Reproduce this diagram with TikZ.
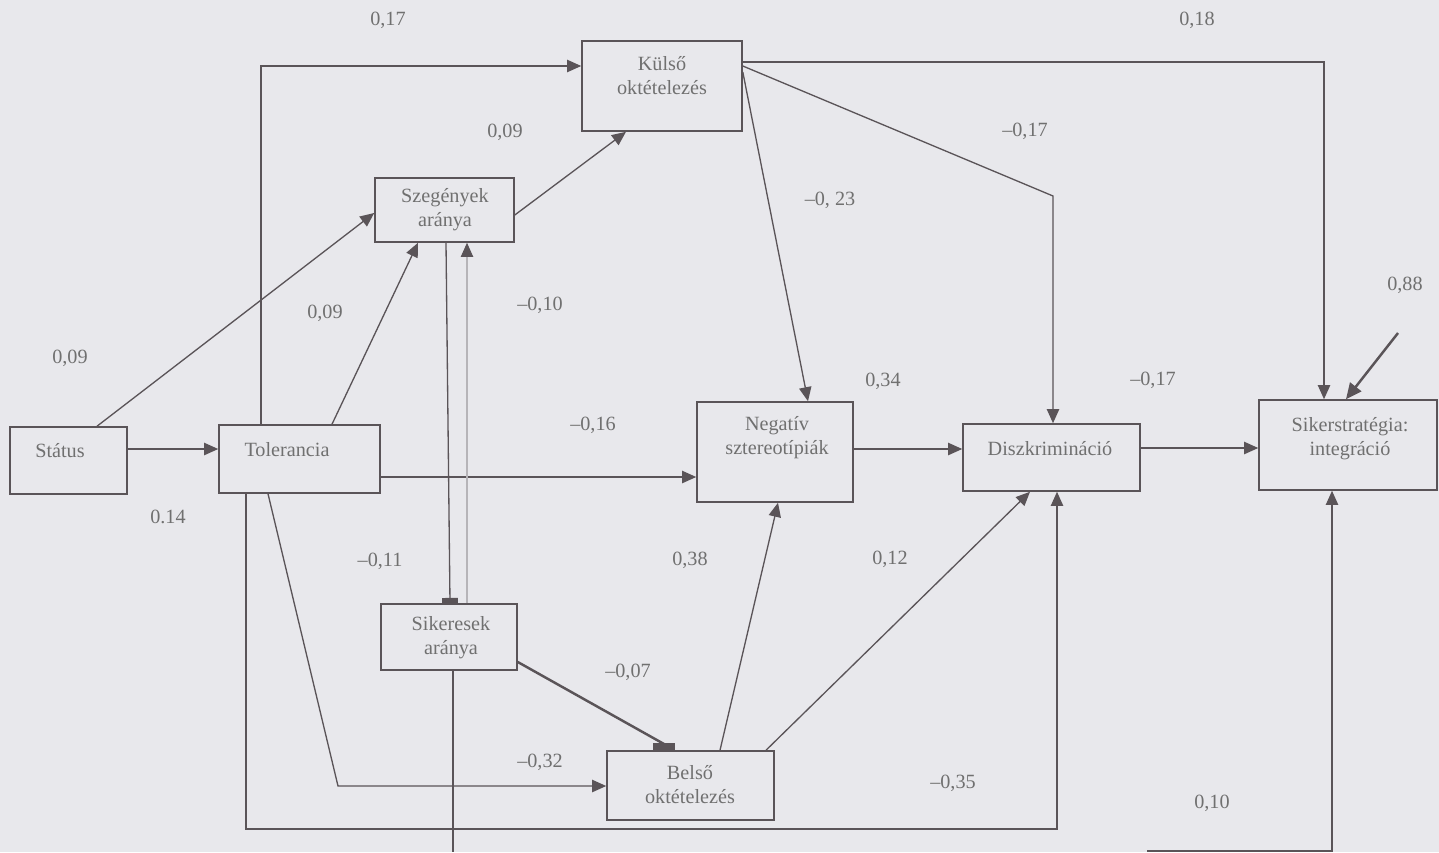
\documentclass[tikz,border=0pt]{standalone}
\usepackage{fontspec}
\setmainfont{Liberation Serif}
\usetikzlibrary{arrows.meta,fit}
\definecolor{bg}{HTML}{E8E8EC}
\definecolor{ln}{HTML}{5A5458}
\definecolor{tx}{HTML}{707070}
\tikzset{
  box/.style={draw=ln,line width=0.9pt,rectangle,inner sep=0pt},
  txt/.style={text=tx,font=\fontsize{11.5}{13.6}\selectfont,align=center,inner sep=0pt},
  lab/.style={text=tx,font=\fontsize{11.5}{13.6}\selectfont,inner sep=0pt},
  arr/.style={draw=ln,line width=0.75pt,-{Triangle[length=8pt,width=7pt]}},
  arrbold/.style={draw=ln,line width=1.4pt,-{Triangle[length=9pt,width=8pt]}},
  faint/.style={draw=ln!35!bg,line width=0.6pt,-{Triangle[length=8pt,width=7pt,color=ln,fill=ln]}},
  plain/.style={draw=ln,line width=0.75pt}
}
\begin{document}
\begin{tikzpicture}[x=0.02cm,y=-0.02cm]
\fill[bg] (0,0) rectangle (1439,852);
\useasboundingbox (0,0) rectangle (1439,852);

% boxes
\node[box,fit={(582,41) (742,131)}] (kulso) {};
\node[box,fit={(375,178) (514,242)}] (szeg) {};
\node[box,fit={(10,427) (127,494)}] (status) {};
\node[box,fit={(219,425) (380,493)}] (tol) {};
\node[box,fit={(697,402) (853,502)}] (neg) {};
\node[box,fit={(963,424) (1140,491)}] (disz) {};
\node[box,fit={(1259,400) (1437,490)}] (sikstr) {};
\node[box,fit={(381,604) (517,670)}] (sik) {};
\node[box,fit={(607,751) (774,820)}] (belso) {};

% box texts
\node[txt] (tkulso) at (662,76) {Külső\\oktételezés};
\node[txt] (tszeg) at (445,210) {Szegények\\aránya};
\node[txt] (tstatus) at (60,451) {Státus};
\node[txt] (ttol) at (287,450) {Tolerancia};
\node[txt] (tneg) at (777,438) {Negatív\\sztereotípiák};
\node[txt] (tdisz) at (1050,449) {Diszkrimináció};
\node[txt] (tsikstr) at (1350,439) {Sikerstratégia:\\integráció};
\node[txt] (tsik) at (451,638) {Sikeresek\\aránya};
\node[txt] (tbelso) at (690,785) {Belső\\oktételezés};

% connectors
\draw[arr] (status.east |- 0,449) -- (tol.west |- 0,449);
\draw[plain,-{Triangle[length=8pt,width=7pt]}] (status.north -| 97,0) -- (szeg.west |- 0,213);
\draw[arr] (tol.north -| 261,0) |- (kulso.west |- 0,66);
\draw[arr] (tol.north -| 332,0) -- (szeg.south -| 418,0);
\draw[arr] (tol.east |- 0,477) -- (neg.west |- 0,477);
\draw[arr] (tol.south -| 268,0) -- (338,786) -- (belso.west |- 0,786);
\draw[arr] (tol.south -| 246,0) |- (1057,829) -- (disz.south -| 1057,0);
\draw[arr] (szeg.east |- 0,215) -- (kulso.south -| 626,0);
\draw[plain,-{Rectangle[length=3pt,width=9pt]}] (szeg.south -| 446,0) -- (sik.north -| 450,0);
\draw[faint] (sik.north -| 467,0) -- (szeg.south -| 467,0);
\draw[arrbold,-{Rectangle[length=4pt,width=12pt]}] (sik.east |- 0,662) -- (664,744) -- (belso.north -| 664,0);
\coordinate (sikend) at (453,852);
\draw[plain] (sik.south -| 453,0) -- (sikend);
\draw[arr] (kulso.east |- 0,72) -- (neg.north -| 808,0);
\draw[arr] (kulso.east |- 0,66) -- (1053,196) -- (disz.north -| 1053,0);
\draw[arr] (kulso.east |- 0,62) -| (sikstr.north -| 1324,0);
\draw[arr] (neg.east |- 0,449) -- (disz.west |- 0,449);
\draw[arr] (disz.east |- 0,448) -- (sikstr.west |- 0,448);
\coordinate (e88) at (1398,333);
\draw[arrbold] (e88) -- (sikstr.north -| 1346,0);
\draw[arr] (belso.north -| 720,0) -- (neg.south -| 778,0);
\draw[arr] (belso.north -| 766,0) -- (disz.south -| 1030,0);
\coordinate (b1) at (1147,851);
\draw[arr] (b1) -| (sikstr.south -| 1332,0);

% labels
\node[lab] (l1) at (388,20) {0,17};
\node[lab] (l2) at (1197,20) {0,18};
\node[lab] (l3) at (505,132) {0,09};
\node[lab] (l4) at (1025,131) {–0,17};
\node[lab] (l5) at (830,200) {–0, 23};
\node[lab] (l6) at (1405,285) {0,88};
\node[lab] (l7) at (325,313) {0,09};
\node[lab] (l8) at (540,305) {–0,10};
\node[lab] (l9) at (70,358) {0,09};
\node[lab] (l10) at (883,381) {0,34};
\node[lab] (l11) at (1153,380) {–0,17};
\node[lab] (l12) at (593,425) {–0,16};
\node[lab] (l13) at (168,517) {0.14};
\node[lab] (l14) at (380,561) {–0,11};
\node[lab] (l15) at (690,560) {0,38};
\node[lab] (l16) at (890,559) {0,12};
\node[lab] (l17) at (628,672) {–0,07};
\node[lab] (l18) at (540,762) {–0,32};
\node[lab] (l19) at (953,783) {–0,35};
\node[lab] (l20) at (1212,803) {0,10};
\end{tikzpicture}
\end{document}
